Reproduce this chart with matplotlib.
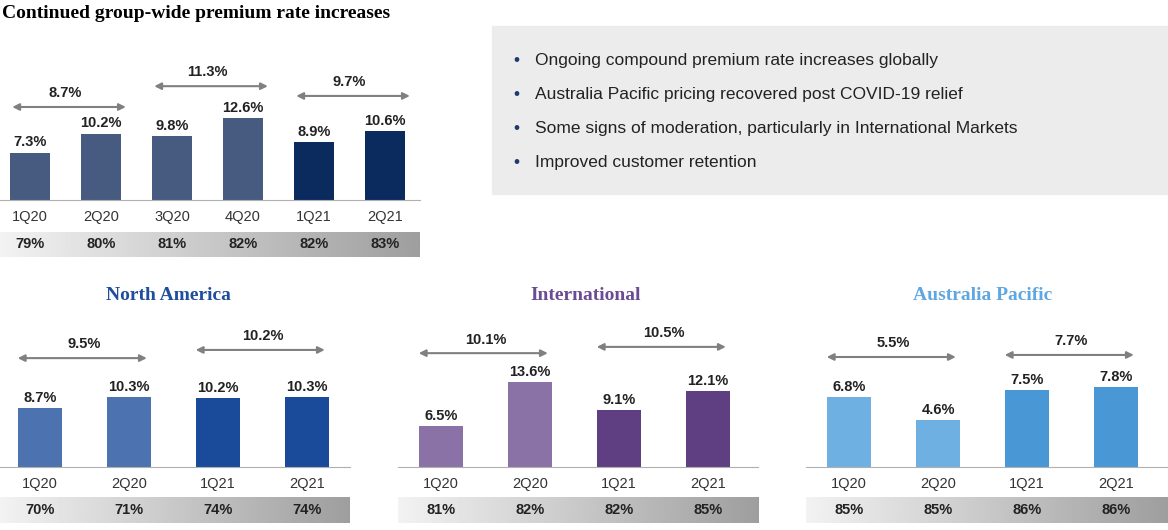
import matplotlib
matplotlib.use("Agg")
import matplotlib.pyplot as plt
import numpy as np
from matplotlib.patches import Rectangle

plt.rcParams['font.family'] = ['Liberation Sans', 'DejaVu Sans']
W, H = 1168, 530
# ---- data ----
group_q = ["1Q20", "2Q20", "3Q20", "4Q20", "1Q21", "2Q21"]
group_vals = [7.3, 10.2, 9.8, 12.6, 8.9, 10.6]
group_ret = ["79%", "80%", "81%", "82%", "82%", "83%"]
group_spans = [(0, 1, 8.7), (2, 3, 11.3), (4, 5, 9.7)]

reg_q = ["1Q20", "2Q20", "1Q21", "2Q21"]
na_vals = [8.7, 10.3, 10.2, 10.3]
na_ret = ["70%", "71%", "74%", "74%"]
na_spans = [(0, 1, 9.5), (2, 3, 10.2)]
intl_vals = [6.5, 13.6, 9.1, 12.1]
intl_ret = ["81%", "82%", "82%", "85%"]
intl_spans = [(0, 1, 10.1), (2, 3, 10.5)]
ap_vals = [6.8, 4.6, 7.5, 7.8]
ap_ret = ["85%", "85%", "86%", "86%"]
ap_spans = [(0, 1, 5.5), (2, 3, 7.7)]

bullets = ["Ongoing compound premium rate increases globally",
           "Australia Pacific pricing recovered post COVID-19 relief",
           "Some signs of moderation, particularly in International Markets",
           "Improved customer retention"]

fig = plt.figure(figsize=(W/100, H/100), dpi=100)

def px_axes(x0, y0, x1, y1, **kw):
    return fig.add_axes([x0/W, 1-y1/H, (x1-x0)/W, (y1-y0)/H], **kw)

def panel(x0, x1, ytop, ybase, c0, pitch, vals, labels, colors, spans, arrow_y, ymax,
          strip_y, rets, bw, ext):
    ax = px_axes(x0, ytop, x1, ybase)
    n = len(vals)
    xs = np.arange(n)
    xl = (-c0/pitch, (x1-x0-c0)/pitch)
    ax.bar(xs, vals, width=bw, color=colors)
    for x, v in zip(xs, vals):
        ax.text(x, v + ymax*0.02, f"{v:.1f}%", ha="center", va="bottom",
                fontsize=10.5, fontweight="bold", color="#222222")
    for (a, b, v), ay in zip(spans, arrow_y):
        ax.annotate("", xy=(b+ext, ay), xytext=(a-0.25, ay),
                    arrowprops=dict(arrowstyle="<|-|>", color="#808080", lw=1.5,
                                    mutation_scale=10, shrinkA=0, shrinkB=0))
        ax.text((a+b)/2, ay + ymax*0.045, f"{v:.1f}%", ha="center", va="bottom",
                fontsize=10.5, fontweight="bold", color="#222222")
    ax.set_xlim(*xl); ax.set_ylim(0, ymax)
    for s in ["top", "right", "left"]:
        ax.spines[s].set_visible(False)
    ax.spines["bottom"].set_color("#b0b0b0")
    ax.set_yticks([])
    ax.set_xticks(xs); ax.set_xticklabels(labels, fontsize=10.5, color="#333333")
    ax.tick_params(axis="x", length=0, pad=7)
    ax.patch.set_alpha(0)
    sa = px_axes(x0, strip_y[0], x1, strip_y[1])
    grad = np.linspace(0.95, 0.62, 256).reshape(1, -1)
    sa.imshow(grad, cmap="gray", vmin=0, vmax=1, aspect="auto",
              extent=(xl[0], xl[1], 0, 1))
    for x, r in zip(xs, rets):
        sa.text(x, 0.5, r, ha="center", va="center", fontsize=10.5,
                fontweight="bold", color="#222222")
    sa.set_xlim(*xl); sa.set_ylim(0, 1); sa.axis("off")

fig.text(2/W, 1-13/H, "Continued group-wide premium rate increases", fontsize=14,
         fontweight="bold", family="Liberation Serif", va="center", ha="left")

panel(0, 420, 40, 200, 30, 71, group_vals, group_q,
      ["#475a80"]*4 + ["#0b2a5e"]*2, group_spans, [14.3, 17.5, 16.0], 24.6,
      (232, 257), group_ret, 0.56, 0.35)
panel(0, 350, 320, 467, 40, 89, na_vals, reg_q,
      ["#4d72b0"]*2 + ["#1a4a9a"]*2, na_spans, [16.0, 17.2], 21.6, (497, 523), na_ret,
      0.5, 0.2)
panel(398, 758, 320, 467, 43, 89, intl_vals, reg_q,
      ["#8a72a6"]*2 + ["#5f3f82"]*2, intl_spans, [18.2, 19.2], 23.5, (497, 523), intl_ret,
      0.5, 0.2)
panel(806, 1168, 320, 467, 43, 89, ap_vals, reg_q,
      ["#6fb0e3"]*2 + ["#4a97d6"]*2, ap_spans, [10.7, 10.9], 14.3, (497, 523), ap_ret,
      0.5, 0.2)

for x, t, c in [(168, "North America", "#1f4e9c"), (586, "International", "#6a4c93"),
                (983, "Australia Pacific", "#5fa7e0")]:
    fig.text(x/W, 1-296/H, t, fontsize=14, fontweight="bold", family="Liberation Serif",
             color=c, ha="center", va="center")

fig.patches.append(Rectangle((492/W, 1-194/H), (1168-492)/W, (194-26)/H,
                             transform=fig.transFigure, color="#ececec", zorder=0))
for i, b in enumerate(bullets):
    y = 1 - (61 + 33.7*i)/H
    fig.text(513/W, y, "•", fontsize=12.5, color="#1f3a6e", va="center")
    fig.text(535/W, y, b, fontsize=12.5, color="#222222", va="center")

fig.savefig("out.png", dpi=100)
